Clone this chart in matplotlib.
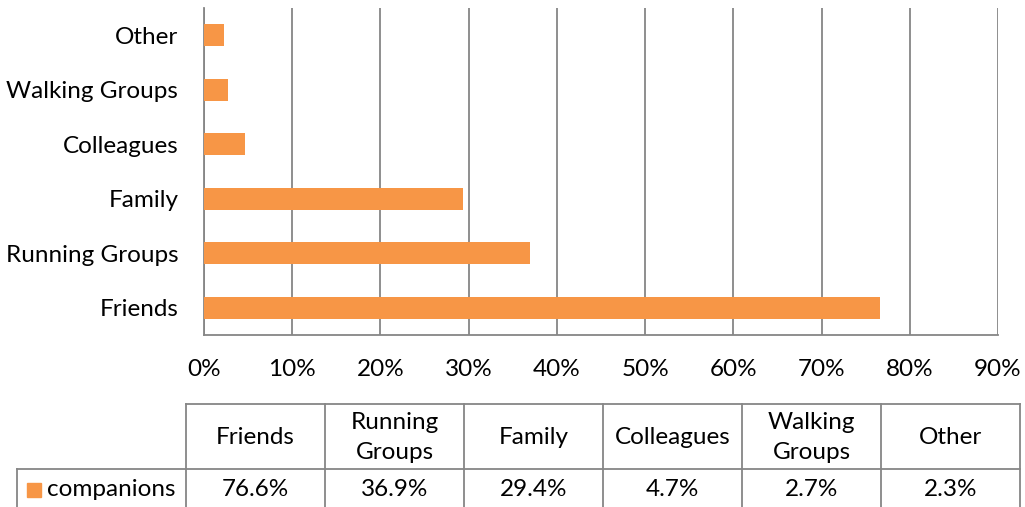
import numpy as np
import matplotlib.pyplot as plt

# data
categories = ["Friends", "Running Groups", "Family", "Colleagues", "Walking Groups", "Other"]
table_headers = ["Friends", "Running\nGroups", "Family", "Colleagues", "Walking\nGroups", "Other"]
values = [76.6, 36.9, 29.4, 4.7, 2.7, 2.3]
series_name = "companions"
xticks = [0, 10, 20, 30, 40, 50, 60, 70, 80, 90]

plt.rcParams['font.family'] = ['Lato', 'DejaVu Sans']
W, H = 1025, 507
bar_color = "#F79646"
grid_color = "#868686"
fs = 17.5

fig = plt.figure(figsize=(W / 100, H / 100), dpi=100)

# bar chart area (pixel box)
left, right, top, bottom = 204, 998, 8, 335
ax = fig.add_axes([left / W, (H - bottom) / H, (right - left) / W, (bottom - top) / H])
y = np.arange(len(categories))
ax.barh(y, values, height=0.4, color=bar_color, zorder=3)
ax.set_xlim(0, 90)
ax.set_ylim(-0.5, len(categories) - 0.5)
ax.set_xticks(xticks)
ax.set_xticklabels([f"{t}%" for t in xticks], fontsize=fs)
ax.set_yticks(y)
ax.set_yticklabels(categories, fontsize=fs)
ax.tick_params(length=0)
ax.tick_params(axis='y', pad=18.5)
ax.tick_params(axis='x', pad=17)
ax.grid(axis='x', color=grid_color, linewidth=1.3, zorder=0)
for s in ['top', 'right']:
    ax.spines[s].set_visible(False)
for s in ['left', 'bottom']:
    ax.spines[s].set_color(grid_color)
    ax.spines[s].set_linewidth(1.3)

# data table below
tab = fig.add_axes([0, 0, 1, 1])
tab.set_xlim(0, W)
tab.set_ylim(H, 0)
tab.axis('off')
col_edges = np.linspace(186, 1020, len(categories) + 1)
row_top, row_mid, row_bot = 404, 469, 512
lab_left = 17
lc = dict(color=grid_color, linewidth=1.3)
tab.plot([col_edges[0], col_edges[-1]], [row_top, row_top], **lc)
tab.plot([lab_left, col_edges[-1]], [row_mid, row_mid], **lc)
tab.plot([lab_left, lab_left], [row_mid, row_bot], **lc)
for xe in col_edges:
    tab.plot([xe, xe], [row_top, row_bot], **lc)
for i, (h, v) in enumerate(zip(table_headers, values)):
    xc = (col_edges[i] + col_edges[i + 1]) / 2
    tab.text(xc, (row_top + row_mid) / 2 + 1, h, ha='center', va='center',
             fontsize=fs, linespacing=1.5)
    tab.text(xc, 490, f"{v}%", ha='center', va='center', fontsize=fs)
tab.add_patch(plt.Rectangle((27, 483), 14, 14, color=bar_color))
tab.text(47, 490, series_name, ha='left', va='center', fontsize=fs)

fig.savefig("out.png", dpi=100)
